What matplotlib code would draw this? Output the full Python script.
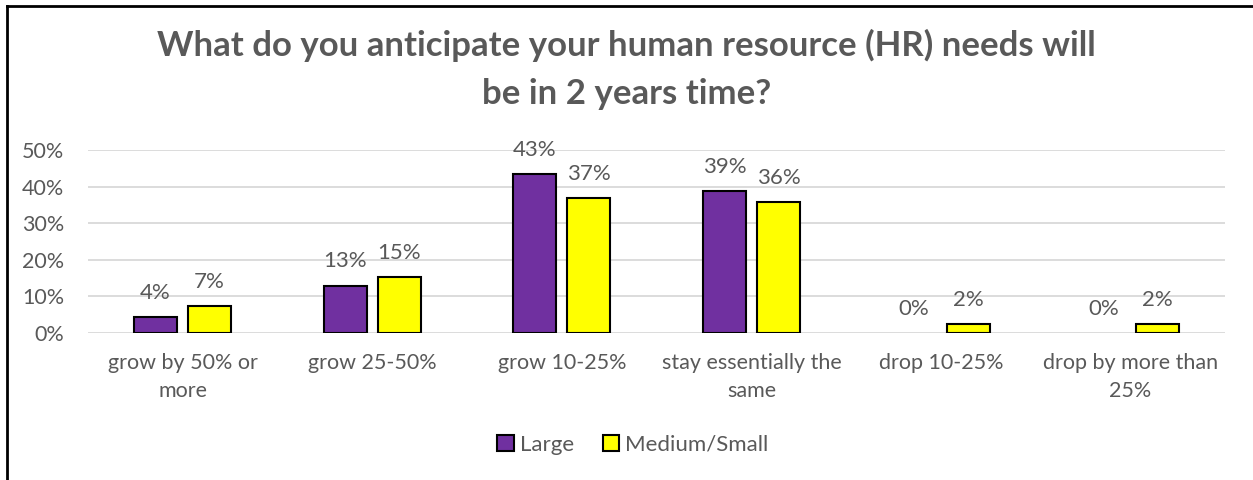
import matplotlib.pyplot as plt
import numpy as np
from matplotlib.lines import Line2D

plt.rcParams['font.family'] = ['Lato', 'DejaVu Sans']

categories = ["grow by 50% or\nmore", "grow 25-50%", "grow 10-25%",
              "stay essentially the\nsame", "drop 10-25%", "drop by more than\n25%"]
large = [4.5, 13.0, 43.4, 38.9, 0.0, 0.0]
medium_small = [7.3, 15.4, 36.9, 35.7, 2.4, 2.4]
yticks = [0, 10, 20, 30, 40, 50]

text_grey = '#595959'
purple = '#7030A0'
yellow = '#FFFF00'

fig = plt.figure(figsize=(12.53, 4.8), dpi=100)
ax = fig.add_axes([0.070, 0.306, 0.908, 0.3815])

x = np.arange(len(categories))
w = 0.227
off = 0.1425
b1 = ax.bar(x - off, large, w, color=purple, edgecolor='black', linewidth=1.5, label='Large', zorder=3)
b2 = ax.bar(x + off, medium_small, w, color=yellow, edgecolor='black', linewidth=1.5, label='Medium/Small', zorder=3)

# zero-height bars get no outline
for bars, vals in ((b1, large), (b2, medium_small)):
    for rect, v in zip(bars, vals):
        if v == 0:
            rect.set_linewidth(0)
        ax.annotate(f"{v:.0f}%", (rect.get_x() + rect.get_width() / 2, v),
                    xytext=(0, 13), textcoords='offset points',
                    ha='center', va='baseline', fontsize=16, color=text_grey,
                    annotation_clip=False)

ax.set_xlim(-0.5, len(categories) - 0.5)
ax.set_ylim(0, 50)
ax.set_yticks(yticks)
ax.set_yticklabels([f"{t}%" for t in yticks])
ax.set_xticks(x)
ax.set_xticklabels(categories, linespacing=1.5)
ax.tick_params(axis='both', length=0, labelsize=15.5, colors=text_grey)
ax.tick_params(axis='x', pad=14)
ax.tick_params(axis='y', pad=17)
ax.grid(axis='y', color='#D9D9D9', linewidth=1.3, zorder=0)
for s in ax.spines.values():
    s.set_visible(False)

fig.text(0.5, 0.905, "What do you anticipate your human resource (HR) needs will",
         ha='center', va='center', fontsize=25, fontweight='bold', color=text_grey)
fig.text(0.5, 0.805, "be in 2 years time?",
         ha='center', va='center', fontsize=25, fontweight='bold', color=text_grey)

fig.legend(handles=[b1, b2], loc='center', bbox_to_anchor=(0.505, 0.073), ncol=2,
           frameon=False, fontsize=16, labelcolor=text_grey, handlelength=0.75,
           handleheight=0.75, handletextpad=0.25, columnspacing=1.3)

# outer frame: left and top edges
fig.add_artist(Line2D([0.0056, 0.0056], [0.0, 0.9875], transform=fig.transFigure,
                      color='black', linewidth=2))
fig.add_artist(Line2D([0.0056, 1.0], [0.9875, 0.9875], transform=fig.transFigure,
                      color='black', linewidth=2))

fig.savefig('out.png', dpi=100)
